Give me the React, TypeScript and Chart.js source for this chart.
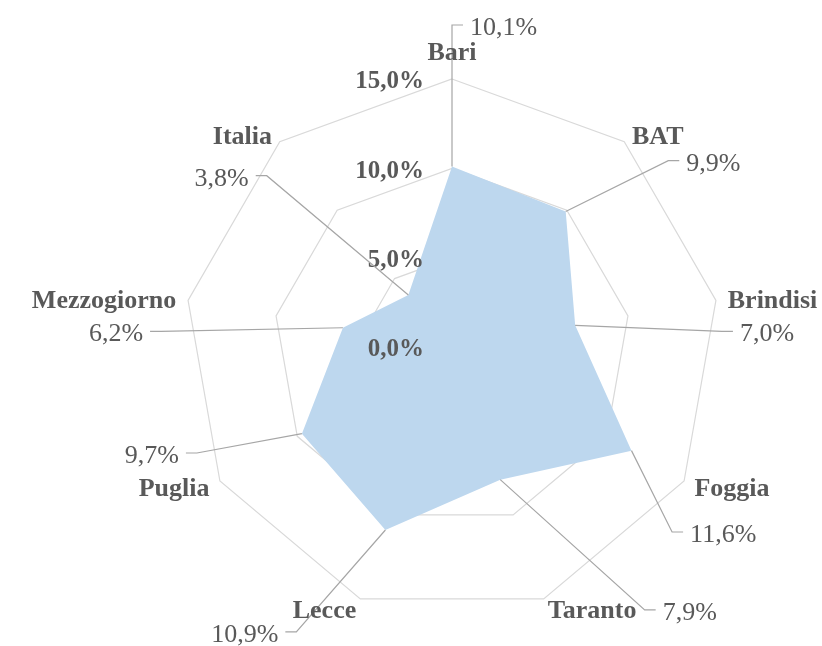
import React, { useEffect, useRef } from "react";
import { Chart, registerables } from "chart.js";

Chart.register(...registerables);

const categories = ["Bari", "BAT", "Brindisi", "Foggia", "Taranto", "Lecce", "Puglia", "Mezzogiorno", "Italia"];
const values = [10.1, 9.9, 7.0, 11.6, 7.9, 10.9, 9.7, 6.2, 3.8];
const tickValues = [0, 5, 10, 15];
const tickLabels = ["0,0%", "5,0%", "10,0%", "15,0%"];
const valueLabels = ["10,1%", "9,9%", "7,0%", "11,6%", "7,9%", "10,9%", "9,7%", "6,2%", "3,8%"];

// Layout of the value-label leader elbows, as pixel offsets from each axis' outer vertex
const leaderElbows: [number, number][] = [
  [0, -54], [44, 19], [6, 31], [-12, 51], [101, 11], [-64, 33], [-23, -28], [-27, 31], [-13, 34],
];

const FONT = '"Liberation Serif", "Times New Roman", serif';
const TEXT = "#595959";
const LEADER = "#a6a6a6";
const TEXT_DY = 3;

const labelPlugin = {
  id: "radarLabels",
  afterDatasetsDraw(chart: any) {
    const scale = chart.scales.r;
    const ctx: CanvasRenderingContext2D = chart.ctx;
    ctx.save();

    // tick labels
    ctx.font = `bold 25px ${FONT}`;
    ctx.fillStyle = TEXT;
    ctx.textAlign = "right";
    ctx.textBaseline = "middle";
    tickValues.forEach((v, k) => {
      const p = scale.getPointPositionForValue(0, v);
      ctx.fillText(tickLabels[k], scale.xCenter - 28, p.y + TEXT_DY);
    });

    // leader lines + value labels
    values.forEach((v, i) => {
      const a = scale.getIndexAngle(i);
      const s = Math.sin(a);
      const right = s >= -0.01;
      const p = scale.getPointPositionForValue(i, v);
      const vtx = scale.getPointPosition(i, scale.drawingArea);
      const ex = vtx.x + leaderElbows[i][0];
      const ey = vtx.y + leaderElbows[i][1];
      const hx = ex + (right ? 11 : -11);
      ctx.strokeStyle = LEADER;
      ctx.lineWidth = 1.2;
      ctx.beginPath();
      ctx.moveTo(p.x, p.y);
      ctx.lineTo(ex, ey);
      ctx.lineTo(hx, ey);
      ctx.stroke();
      ctx.font = `26px ${FONT}`;
      ctx.fillStyle = TEXT;
      ctx.textAlign = right ? "left" : "right";
      ctx.textBaseline = "middle";
      ctx.fillText(valueLabels[i], hx + (right ? 7 : -7), ey + TEXT_DY);
    });

    // category labels
    ctx.font = `bold 26px ${FONT}`;
    ctx.fillStyle = TEXT;
    ctx.textBaseline = "middle";
    categories.forEach((name, i) => {
      const a = scale.getIndexAngle(i);
      const s = Math.sin(a);
      const c = Math.cos(a);
      const vtx = scale.getPointPosition(i, scale.drawingArea);
      let x = vtx.x + s * 12;
      let y = vtx.y - c * 10;
      let align: CanvasTextAlign = "center";
      if (Math.abs(s) < 0.05) {
        y -= c > 0 ? 19 : -19;
      } else {
        align = s > 0 ? "left" : "right";
      }
      ctx.textAlign = align;
      ctx.fillText(name, x, y + TEXT_DY);
    });

    ctx.restore();
  },
};

export default function App() {
  const ref = useRef<HTMLCanvasElement>(null);
  useEffect(() => {
    if (!ref.current) return;
    const chart = new Chart(ref.current, {
      type: "radar",
      data: {
        labels: categories,
        datasets: [
          {
            data: values,
            backgroundColor: "#bdd7ee",
            borderColor: "#bdd7ee",
            borderWidth: 0,
            pointRadius: 0,
            fill: true,
          },
        ],
      },
      options: {
        responsive: false,
        animation: false,
        devicePixelRatio: 1,
        layout: { padding: { left: 184, right: 102, top: 79, bottom: 31 } },
        plugins: { legend: { display: false }, tooltip: { enabled: false } },
        scales: {
          r: {
            min: 0,
            max: 15,
            ticks: { stepSize: 5, display: false },
            grid: { color: "#d9d9d9", lineWidth: 1.2, circular: false },
            angleLines: { display: false },
            pointLabels: { display: false },
            afterFit: (scale: any) => {
              scale.xCenter = scale.left + scale.width / 2;
              scale.yCenter = scale.top + scale.height / 2;
              scale.drawingArea = Math.min(scale.width, scale.height) / 2;
            },
          } as any,
        },
      },
      plugins: [labelPlugin],
    });
    return () => chart.destroy();
  }, []);
  return (
    <div style={{ position: "fixed", left: 0, top: 0, width: 822, height: 646, background: "#fff" }}>
      <canvas ref={ref} width={822} height={646} style={{ display: "block" }} />
    </div>
  );
}
